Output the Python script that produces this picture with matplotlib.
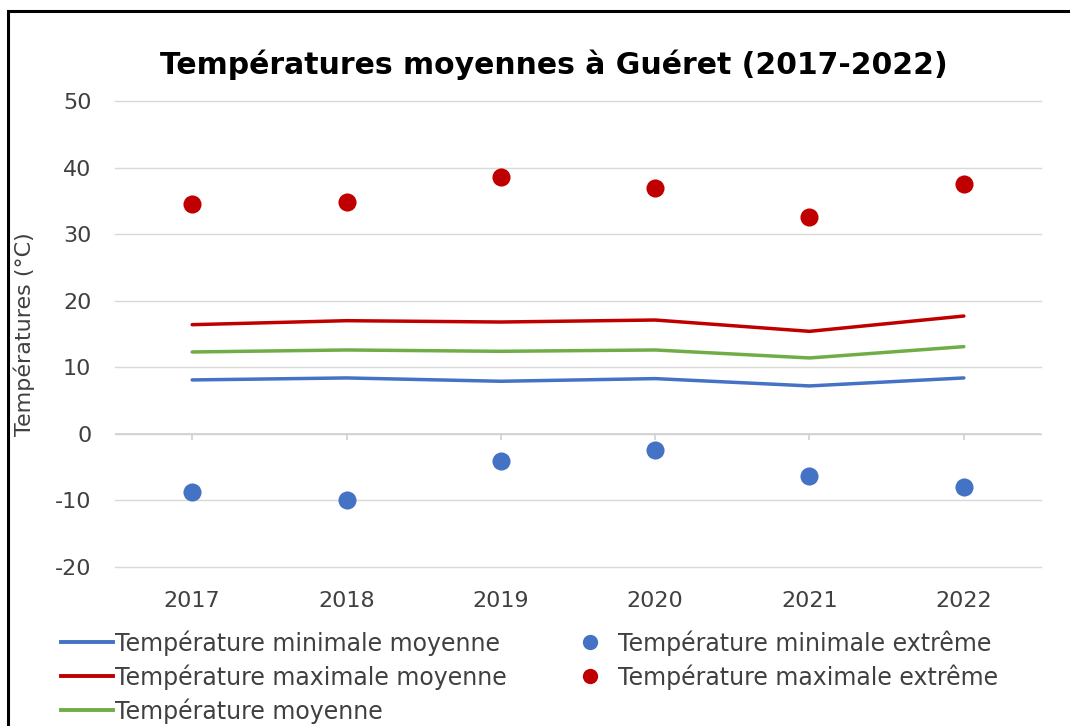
import matplotlib
matplotlib.use("Agg")
import matplotlib.pyplot as plt
from matplotlib.lines import Line2D

plt.rcParams['font.family'] = ['DejaVu Sans']
plt.rcParams['axes.unicode_minus'] = False

years = ["2017", "2018", "2019", "2020", "2021", "2022"]
tmin_moy = [8.1, 8.4, 7.9, 8.3, 7.2, 8.4]
tmax_moy = [16.4, 17.0, 16.8, 17.1, 15.4, 17.7]
t_moy = [12.3, 12.6, 12.4, 12.6, 11.4, 13.1]
tmin_ext = [-8.8, -10.0, -4.1, -2.4, -6.4, -8.0]
tmax_ext = [34.6, 34.8, 38.6, 37.0, 32.5, 37.5]
yticks = [-20, -10, 0, 10, 20, 30, 40, 50]

BLUE = "#4472C4"
RED = "#C00000"
GREEN = "#70AD47"
TXT = "#404040"

fig = plt.figure(figsize=(10.70, 7.26), dpi=100)
ax = fig.add_axes([115/1070, 1-567/726, (1041-115)/1070, (567-101)/726])

x = list(range(len(years)))
ax.set_xlim(-0.5, len(years)-0.5)
ax.set_ylim(min(yticks), max(yticks))
ax.set_yticks(yticks)
ax.set_xticks(x)
ax.set_xticklabels(years)
ax.grid(axis='y', color='#d9d9d9', lw=1)
for gl in ax.get_ygridlines():
    gl.set_clip_on(False)
ax.set_axisbelow(True)
for s in ax.spines.values():
    s.set_visible(False)
ax.tick_params(axis='both', length=0, labelsize=16, labelcolor=TXT)
ax.tick_params(axis='y', pad=17)
ax.tick_params(axis='x', pad=17)

# axis at zero with tick marks
ax.axhline(0, color='#d0d0d0', lw=1.2, zorder=1)
ax.vlines(x, -0.9, 0, color='#d0d0d0', lw=1.2, zorder=1)

ax.plot(x, tmin_moy, color=BLUE, lw=2.5, solid_capstyle='round', zorder=3)
ax.plot(x, tmax_moy, color=RED, lw=2.5, solid_capstyle='round', zorder=3)
ax.plot(x, t_moy, color=GREEN, lw=2.5, solid_capstyle='round', zorder=3)
ax.scatter(x, tmin_ext, s=170, color=BLUE, zorder=4, linewidths=0)
ax.scatter(x, tmax_ext, s=170, color=RED, zorder=4, linewidths=0)

ax.set_ylabel("Températures (°C)", fontsize=16, color=TXT)
ax.yaxis.set_label_coords((35-115)/926, 0.5)

fig.text(554/1070, 1-65/726, "Températures moyennes à Guéret (2017-2022)",
         ha='center', va='center', fontsize=21.5, fontweight='bold', color='black')

handles = [
    Line2D([], [], color=BLUE, lw=2.8),
    Line2D([], [], color=RED, lw=2.8),
    Line2D([], [], color=GREEN, lw=2.8),
    Line2D([], [], ls='none', marker='o', ms=11, color=BLUE, mew=0),
    Line2D([], [], ls='none', marker='o', ms=11, color=RED, mew=0),
]
labels = ["Température minimale moyenne", "Température maximale moyenne",
          "Température moyenne", "Température minimale extrême",
          "Température maximale extrême"]
fig.legend(handles, labels, loc='upper left', bbox_to_anchor=(61/1070, 1-630/726),
           ncol=2, frameon=False, fontsize=17, labelcolor=TXT,
           handlelength=2.2, handletextpad=0.1, labelspacing=0.36,
           columnspacing=2.4, borderaxespad=0, borderpad=0)

# outer frame (left and top edges visible)
fig.add_artist(Line2D([8/1070, 8/1070], [0, 1-11/726], transform=fig.transFigure,
                      color='black', lw=2.2, solid_capstyle='projecting'))
fig.add_artist(Line2D([8/1070, 1.01], [1-11/726, 1-11/726], transform=fig.transFigure,
                      color='black', lw=2.2, solid_capstyle='butt'))

fig.savefig("out.png", dpi=100)
